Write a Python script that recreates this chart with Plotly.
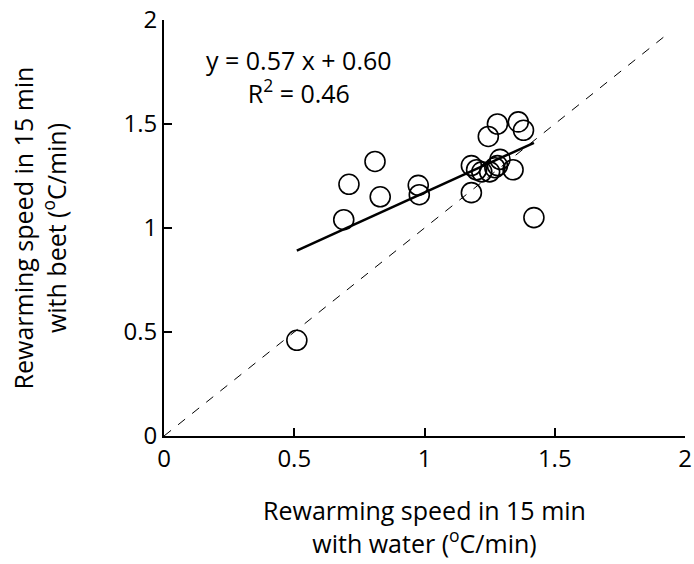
import plotly.graph_objects as go

# rewarming speed (degC/min)
water = [0.51, 0.69, 0.71, 0.81, 0.83, 0.976, 0.98, 1.18, 1.18, 1.20,
         1.245, 1.28, 1.22, 1.25, 1.27, 1.29, 1.28, 1.34, 1.36, 1.38, 1.42]
beet = [0.46, 1.04, 1.21, 1.32, 1.15, 1.205, 1.16, 1.17, 1.30, 1.28,
        1.44, 1.50, 1.27, 1.27, 1.29, 1.33, 1.30, 1.28, 1.51, 1.47, 1.05]

slope = 0.57
intercept = 0.60
r2 = 0.46
diag_end = 1.94

tick_vals = [0, 0.5, 1, 1.5, 2]
tick_text = ["0", "0.5", "1", "1.5", "2"]

font = "Open Sans, Noto Sans, sans-serif"

fit_x = [min(water), max(water)]
fit_y = [slope * v + intercept for v in fit_x]

fig = go.Figure()

# 1:1 line
fig.add_trace(go.Scatter(
    x=[0, diag_end], y=[0, diag_end], mode="lines",
    line=dict(color="black", width=1, dash="dash"),
    showlegend=False, hoverinfo="skip"
))

fig.add_trace(go.Scatter(
    x=fit_x, y=fit_y, mode="lines",
    line=dict(color="black", width=2.5),
    showlegend=False
))

fig.add_trace(go.Scatter(
    x=water, y=beet, mode="markers",
    marker=dict(symbol="circle-open", size=20, color="black",
                line=dict(color="black", width=1.6)),
    showlegend=False
))

fig.add_annotation(
    x=0.52, y=1.73, xref="x", yref="y", showarrow=False, yanchor="middle",
    text=f"y = {slope:.2f} x + {intercept:.2f}<br>R<sup>2</sup> = {r2:.2f}",
    align="center", font=dict(size=25, color="black", family=font)
)

axis_common = dict(
    range=[0, 2], tickvals=tick_vals, ticktext=tick_text,
    showgrid=False, zeroline=False,
    showline=True, linecolor="black", linewidth=2,
    ticks="inside", ticklen=8, tickwidth=2, tickcolor="black",
    tickfont=dict(size=24, color="black", family=font),
    ticklabeloverflow="allow", automargin=False,
)

fig.update_xaxes(
    **axis_common,
    title=dict(text="Rewarming speed in 15 min<br>with water (<sup>o</sup>C/min)",
               font=dict(size=25, color="black", family=font), standoff=30),
)
fig.update_yaxes(
    **axis_common,
    title=dict(text="Rewarming speed in 15 min<br>with beet (<sup>o</sup>C/min)",
               font=dict(size=25, color="black", family=font), standoff=50),
)

fig.update_layout(
    width=694, height=564,
    margin=dict(l=164, r=9, t=20, b=128),
    plot_bgcolor="white", paper_bgcolor="white",
)

# drop the default body margin so the figure fills the window exactly
fig.write_html("out.html", config={"displayModeBar": False},
               post_script="document.body.style.margin='0';")
